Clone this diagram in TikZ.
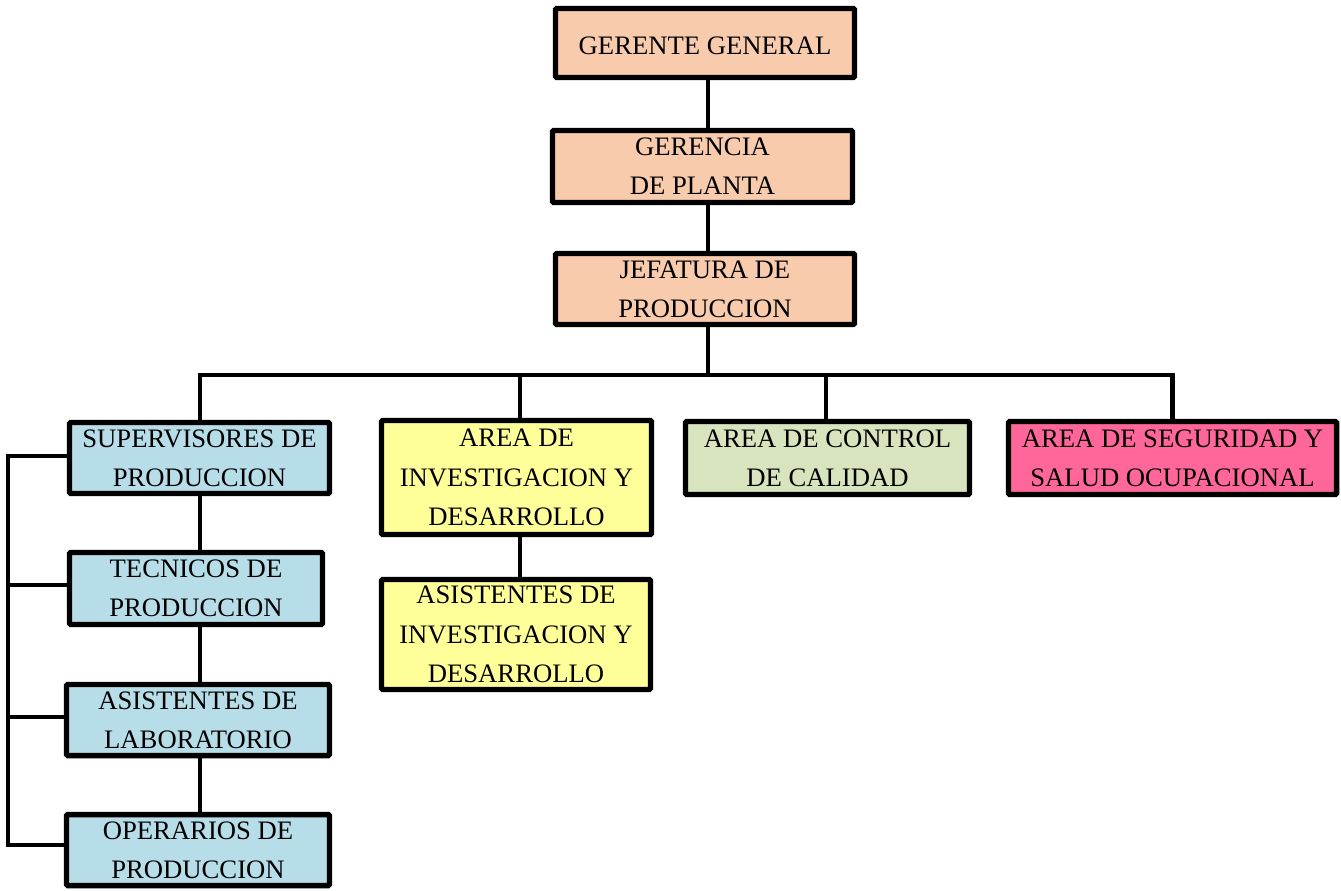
\documentclass[tikz,border=0pt]{standalone}
\usepackage{fontspec}
\setmainfont{Liberation Serif}
\definecolor{peach}{HTML}{F8CBAD}
\definecolor{skyblue}{HTML}{B7DDE8}
\definecolor{paleyellow}{HTML}{FFFF99}
\definecolor{sage}{HTML}{D7E4BD}
\definecolor{rose}{HTML}{FF6699}
\begin{document}
\begin{tikzpicture}[x=0.75pt,y=-0.75pt,
  orgbox/.style={draw=black, line width=4.1pt, rounded corners=1pt,
    align=center, inner sep=0pt, text=black,
    font=\fontsize{20}{29.5}\selectfont,
    execute at begin node={\rule{0pt}{18pt}}},
  conn/.style={draw=black, line width=3.3pt}]
\useasboundingbox (0,0) rectangle (1341,890);

% top chain
\node[orgbox, fill=peach, minimum width=224.25pt, minimum height=51.75pt] (gg) at (705,43) {GERENTE GENERAL};
\node[orgbox, fill=peach, minimum width=225pt, minimum height=54pt] (gp) at (702.5,166.5) {GERENCIA\\DE PLANTA};
\node[orgbox, fill=peach, minimum width=224.25pt, minimum height=53.25pt] (jp) at (705,289) {JEFATURA DE\\PRODUCCION};

% second level
\node[orgbox, fill=skyblue, minimum width=195pt, minimum height=53.25pt] (sp) at (199.5,458) {SUPERVISORES DE\\PRODUCCION};
\node[orgbox, fill=paleyellow, minimum width=202.5pt, minimum height=85.5pt] (aid) at (516.5,477.5) {AREA DE\\INVESTIGACION Y\\DESARROLLO};
\node[orgbox, fill=sage, minimum width=213pt, minimum height=54.75pt] (acc) at (827.5,458) {AREA DE CONTROL\\DE CALIDAD};
\node[orgbox, fill=rose, minimum width=246pt, minimum height=54.75pt] (asso) at (1172.5,458) {AREA DE SEGURIDAD Y\\SALUD OCUPACIONAL};

% production staff
\node[orgbox, fill=skyblue, minimum width=189.75pt, minimum height=54pt] (tp) at (196,588.5) {TECNICOS DE\\PRODUCCION};
\node[orgbox, fill=skyblue, minimum width=197.25pt, minimum height=53.25pt] (al) at (198,720) {ASISTENTES DE\\LABORATORIO};
\node[orgbox, fill=skyblue, minimum width=197.25pt, minimum height=53.25pt] (op) at (198,850) {OPERARIOS DE\\PRODUCCION};

% research staff
\node[orgbox, fill=paleyellow, minimum width=201.75pt, minimum height=82.5pt] (asid) at (516,634.5) {ASISTENTES DE\\INVESTIGACION Y\\DESARROLLO};

% connector guide lines
\coordinate (bus) at (0,375);
\coordinate (lx) at (8,0);
\coordinate (topx) at (708,0);
\coordinate (midx) at (520,0);
\coordinate (prodx) at (200,0);

\draw[conn] (topx |- gg.south) -- (topx |- gp.north);
\draw[conn] (topx |- gp.south) -- (topx |- jp.north);
\draw[conn] (topx |- jp.south) -- (topx |- bus);
\draw[conn] (prodx |- sp.north) |- (asso.north |- bus) -- (asso.north);
\draw[conn] (midx |- aid.north) -- (midx |- bus);
\draw[conn] ([xshift=-1.1pt]acc.north) -- ([xshift=-1.1pt]acc.north |- bus);

\draw[conn] (midx |- asid.north) -- (midx |- aid.south);

\draw[conn] (prodx |- sp.south) -- (prodx |- tp.north);
\draw[conn] (prodx |- tp.south) -- (prodx |- al.north);
\draw[conn] (prodx |- al.south) -- (prodx |- op.north);

\draw[conn] ([yshift=1.5pt]sp.west) -| ([yshift=3.75pt]lx |- op.west) -- ([yshift=3.75pt]op.west);
\draw[conn] ([yshift=2.6pt]tp.west) -- ([yshift=2.6pt]lx |- tp.west);
\draw[conn] ([yshift=2.25pt]al.west) -- ([yshift=2.25pt]lx |- al.west);
\end{tikzpicture}
\end{document}
